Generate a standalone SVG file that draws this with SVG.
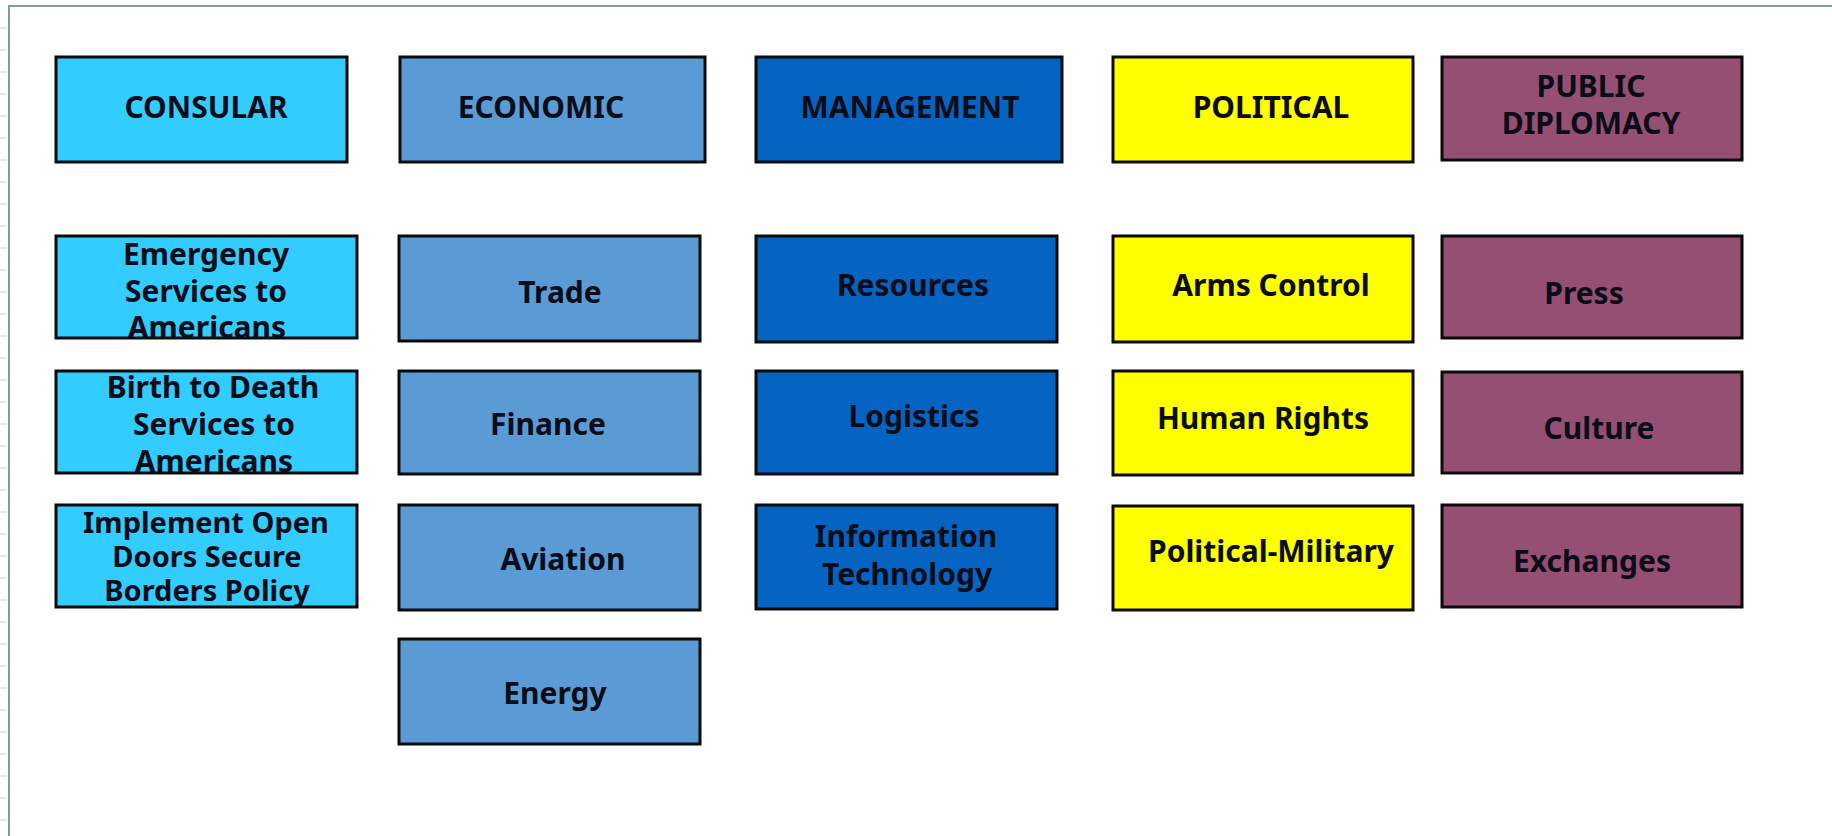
<svg xmlns="http://www.w3.org/2000/svg" width="1832" height="836" viewBox="0 0 1832 836">
<style>
.box{stroke:#0b0b0b;stroke-width:3}
.con{fill:#33CCFF}
.eco{fill:#5B9BD5}
.man{fill:#0563C1}
.pol{fill:#FFFF00}
.pd{fill:#954F72}
text{font-family:"Noto Sans","Open Sans","DejaVu Sans",sans-serif;font-weight:bold;font-size:30px;fill:#0a0d18;text-anchor:middle}
.tight{font-size:29px}
.frame{stroke:#7f9ba8;stroke-width:2;fill:none}
</style>
<rect x="0" y="0" width="1832" height="836" fill="#ffffff"/>
<path class="frame" d="M9,836 V6 H1832"/>
<g stroke="#e6e9ec" stroke-width="2">
<path d="M0,28 H7 M0,50 H7 M0,72 H7 M0,94 H7 M0,116 H7 M0,138 H7 M0,160 H7 M0,182 H7 M0,204 H7 M0,226 H7 M0,248 H7 M0,270 H7 M0,292 H7 M0,314 H7 M0,336 H7 M0,358 H7 M0,380 H7 M0,402 H7 M0,424 H7 M0,446 H7 M0,468 H7 M0,490 H7 M0,512 H7 M0,534 H7 M0,556 H7 M0,578 H7 M0,600 H7 M0,622 H7 M0,644 H7 M0,666 H7 M0,688 H7 M0,710 H7 M0,732 H7 M0,754 H7 M0,776 H7 M0,798 H7 M0,820 H7"/>
</g>

<g id="consular">
<rect class="box con" x="56" y="57" width="291" height="105"/>
<text x="206" y="118">CONSULAR</text>
</g>
<g id="economic">
<rect class="box eco" x="400" y="57" width="305" height="105"/>
<text x="541" y="118">ECONOMIC</text>
</g>
<g id="management">
<rect class="box man" x="756" y="57" width="306" height="105"/>
<text x="910" y="118">MANAGEMENT</text>
</g>
<g id="political">
<rect class="box pol" x="1113" y="57" width="300" height="105"/>
<text x="1271" y="118">POLITICAL</text>
</g>
<g id="public-diplomacy">
<rect class="box pd" x="1442" y="57" width="300" height="103"/>
<text x="1591" y="97">PUBLIC</text>
<text x="1591" y="134">DIPLOMACY</text>
</g>

<g id="emergency">
<rect class="con" x="56" y="236" width="301" height="102"/>
<text x="206" y="265">Emergency</text>
<text x="206" y="302">Services to</text>
<text x="207" y="338">Americans</text>
<rect class="box" fill="none" x="56" y="236" width="301" height="102"/>
</g>
<g id="birth-to-death">
<rect class="con" x="56" y="371" width="301" height="102"/>
<text x="213" y="398">Birth to Death</text>
<text x="214" y="435">Services to</text>
<text x="214" y="472">Americans</text>
<rect class="box" fill="none" x="56" y="371" width="301" height="102"/>
</g>
<g id="open-doors">
<rect class="con" x="56" y="505" width="301" height="102"/>
<text class="tight" x="206" y="533">Implement Open</text>
<text class="tight" x="207" y="567">Doors Secure</text>
<text class="tight" x="207" y="601">Borders Policy</text>
<rect class="box" fill="none" x="56" y="505" width="301" height="102"/>
</g>

<g id="trade">
<rect class="box eco" x="399" y="236" width="301" height="105"/>
<text x="560" y="303">Trade</text>
</g>
<g id="finance">
<rect class="box eco" x="399" y="371" width="301" height="103"/>
<text x="548" y="435">Finance</text>
</g>
<g id="aviation">
<rect class="box eco" x="399" y="505" width="301" height="105"/>
<text x="563" y="570">Aviation</text>
</g>
<g id="energy">
<rect class="box eco" x="399" y="639" width="301" height="105"/>
<text x="555" y="704">Energy</text>
</g>

<g id="resources">
<rect class="box man" x="756" y="236" width="301" height="106"/>
<text x="913" y="296">Resources</text>
</g>
<g id="logistics">
<rect class="box man" x="756" y="371" width="301" height="103"/>
<text x="914" y="427">Logistics</text>
</g>
<g id="information-technology">
<rect class="box man" x="756" y="505" width="301" height="104"/>
<text x="906" y="547">Information</text>
<text x="907" y="585">Technology</text>
</g>

<g id="arms-control">
<rect class="box pol" x="1113" y="236" width="300" height="106"/>
<text x="1271" y="296">Arms Control</text>
</g>
<g id="human-rights">
<rect class="box pol" x="1113" y="371" width="300" height="104"/>
<text x="1263" y="429">Human Rights</text>
</g>
<g id="political-military">
<rect class="box pol" x="1113" y="506" width="300" height="104"/>
<text x="1271" y="562">Political-Military</text>
</g>

<g id="press">
<rect class="box pd" x="1442" y="236" width="300" height="102"/>
<text x="1584" y="304">Press</text>
</g>
<g id="culture">
<rect class="box pd" x="1442" y="372" width="300" height="101"/>
<text x="1599" y="439">Culture</text>
</g>
<g id="exchanges">
<rect class="box pd" x="1442" y="505" width="300" height="102"/>
<text x="1592" y="572">Exchanges</text>
</g>
</svg>
